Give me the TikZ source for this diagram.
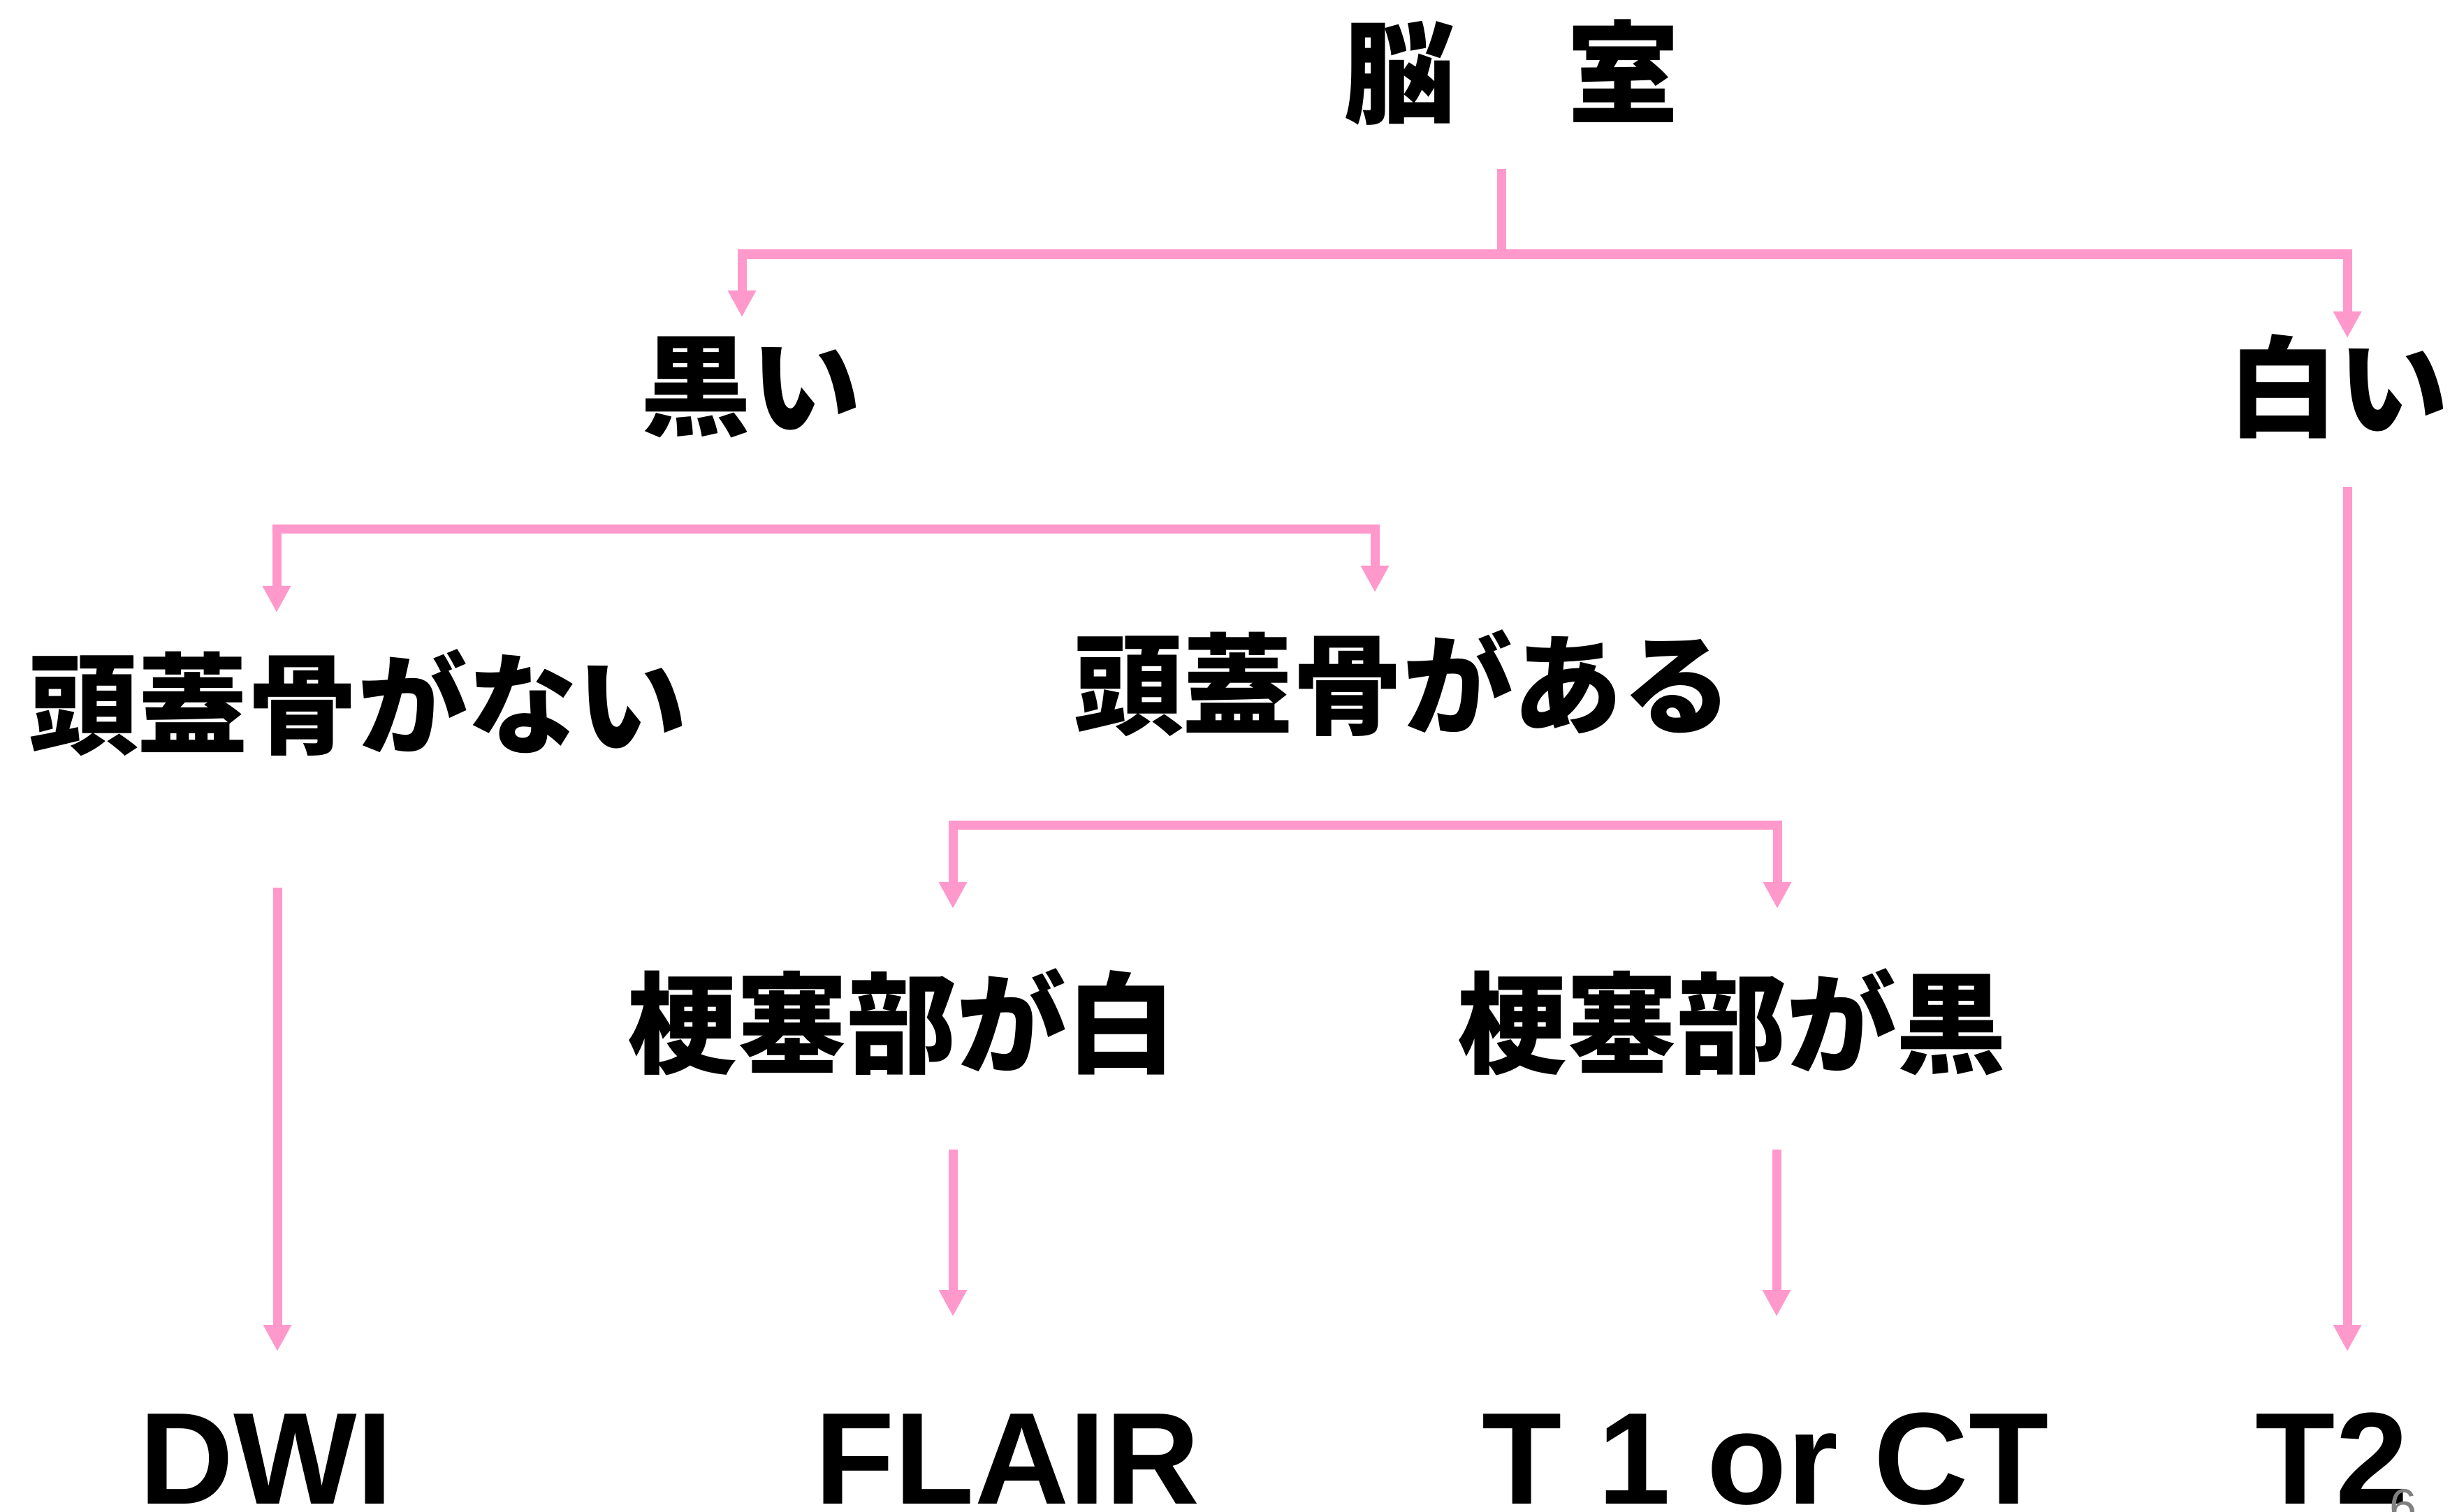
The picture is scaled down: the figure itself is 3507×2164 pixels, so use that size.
\documentclass[tikz,border=0pt]{standalone}
\usepackage{fontspec}
\setmainfont{Liberation Sans}
\newfontfamily\jp{Noto Sans CJK JP}
\usetikzlibrary{arrows.meta}
\definecolor{pinkline}{RGB}{255,153,204}
\begin{document}
\begin{tikzpicture}[x=0.01cm,y=-0.01cm,
  jptext/.style={font=\jp\bfseries\fontsize{44.7}{50}\selectfont, inner sep=0, anchor=center},
  toptext/.style={font=\jp\bfseries\fontsize{45.5}{50}\selectfont, inner sep=0, anchor=center},
  entext/.style={font=\bfseries\fontsize{53.2}{60}\selectfont, inner sep=0, anchor=base},
  pgnum/.style={font=\fontsize{20}{24}\selectfont, text=gray, inner sep=0, anchor=base},
  conn/.style={draw=pinkline, line width=0.13cm, line join=miter},
  tipend/.style={-{Triangle[width=0.38cm,length=0.38cm]}},
  tipboth/.style={{Triangle[width=0.38cm,length=0.38cm]}-{Triangle[width=0.38cm,length=0.38cm]}}]
\useasboundingbox[fill=white] (0,0) rectangle (3507,2164);

% texts
\node[toptext] (nou) at (2163,104) {脳　室};
\node[jptext] (kuroi) at (1075,555) {黒い};
\node[jptext] (shiroi) at (3347,553) {白い};
\node[jptext] (nai) at (512,1006) {頭蓋骨がない};
\node[jptext] (aru) at (2008,978) {頭蓋骨がある};
\node[jptext] (kw) at (1291,1463) {梗塞部が白};
\node[jptext] (kb) at (2479,1463) {梗塞部が黒};
\node[entext] (dwi) at (381,2153) {DWI};
\node[entext] (flair) at (1442,2153) {FLAIR};
\node[entext] (t1ct) at (2527,2153) {T 1 or CT};
\node[entext] (t2) at (3338,2153) {T2};
\node[pgnum] (pg) at (3440,2181) {6};

% connector points
\coordinate (s0) at (2149,242);
\coordinate (s1) at (2149,364);
\coordinate (kTip) at (1062,454);
\coordinate (sTip) at (3360,484);
\coordinate (br2) at (1075,757);
\coordinate (naiTip) at (396,877);
\coordinate (aruTip) at (1968,848);
\coordinate (br3) at (2008,1181);
\coordinate (kwTip) at (1364,1301);
\coordinate (kbTip) at (2544,1301);
\coordinate (dwiS) at (397,1271);
\coordinate (dwiT) at (397,1935);
\coordinate (flS) at (1364,1646);
\coordinate (flT) at (1364,1885);
\coordinate (ctS) at (2543,1646);
\coordinate (ctT) at (2543,1885);
\coordinate (t2S) at (3360,697);
\coordinate (t2T) at (3360,1935);

% connectors
\draw[conn] (s0) -- (s1);
\draw[conn, tipboth] (kTip) |- (s1) -| (sTip);
\draw[conn, tipboth] (naiTip) |- (br2) -| (aruTip);
\draw[conn, tipboth] (kwTip) |- (br3) -| (kbTip);
\draw[conn, tipend] (dwiS) -- (dwiT);
\draw[conn, tipend] (flS) -- (flT);
\draw[conn, tipend] (ctS) -- (ctT);
\draw[conn, tipend] (t2S) -- (t2T);
\end{tikzpicture}
\end{document}
